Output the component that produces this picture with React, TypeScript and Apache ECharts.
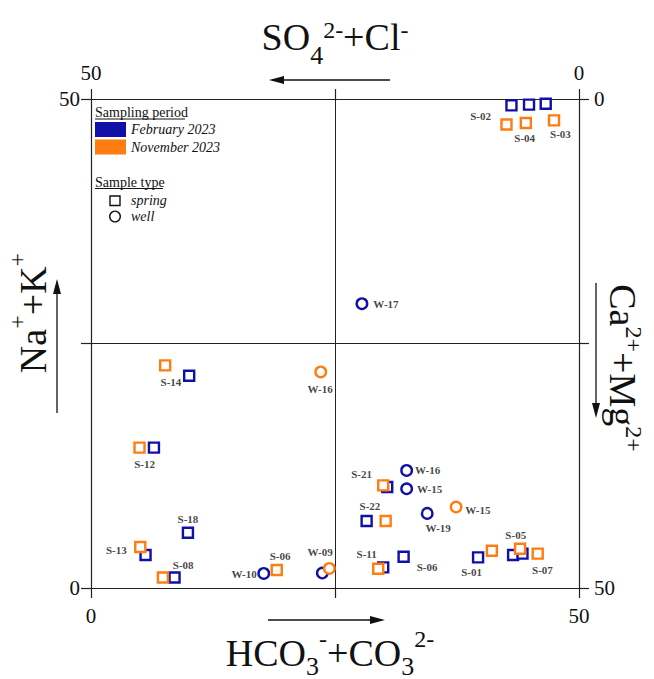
import React, { useEffect, useRef } from "react";
import * as echarts from "echarts";

const BLUE = "#1010a8";
const ORANGE = "#ff7c10";
const INK = "#111111";
const FONT = "'Liberation Serif', 'Times New Roman', serif";

// [HCO3+CO3 %, Na+K %]
const febSpring: [number, number][] = [
  [43.08, 49.35], [44.88, 49.42], [46.59, 49.52],
  [10.06, 21.71], [6.45, 14.35], [9.93, 5.65], [5.59, 3.37], [8.56, 1.08],
  [30.35, 10.33], [28.24, 6.85], [29.94, 2.11], [32.03, 3.2],
  [39.66, 3.13], [43.25, 3.37], [44.21, 3.51],
];
const febWell: [number, number][] = [
  [27.76, 29.07], [32.34, 12.02], [32.34, 10.15], [34.45, 7.63],
  [17.7, 1.49], [23.7, 1.53],
];
const novSpring: [number, number][] = [
  [42.57, 47.4], [44.55, 47.55], [47.44, 47.81],
  [7.6, 22.76], [4.97, 14.35], [5.05, 4.19], [7.37, 1.08], [19.03, 1.84],
  [29.94, 10.49], [30.19, 6.85], [29.43, 1.97],
  [41.07, 3.81], [43.96, 4.02], [45.77, 3.51],
];
const novWell: [number, number][] = [
  [23.54, 22.09], [24.42, 2.0], [37.41, 8.28],
];
// sample annotations: [name, x, y]
const sampleLabels: [string, number, number][] = [
  ["S-02", 39.91, 48.29], ["S-04", 44.44, 46.04], ["S-03", 48.1, 46.45],
  ["W-17", 30.22, 29.07], ["S-14", 8.19, 21.02], ["W-16", 23.47, 20.38],
  ["S-12", 5.49, 12.71], ["S-18", 9.93, 7.06], ["S-13", 2.59, 3.92],
  ["S-08", 9.45, 2.38], ["W-10", 15.69, 1.47], ["S-06", 19.37, 3.3],
  ["W-09", 23.47, 3.64], ["S-21", 27.73, 11.69], ["W-16", 34.49, 12.02],
  ["W-15", 34.69, 10.15], ["S-22", 28.58, 8.34], ["W-19", 35.57, 6.09],
  ["W-15", 39.63, 8.0], ["S-11", 28.24, 3.51], ["S-06", 34.44, 2.15],
  ["S-01", 38.99, 1.67], ["S-05", 43.52, 5.45], ["S-07", 46.25, 1.87],
];
const AXIS_MIN = 0;
const AXIS_MAX = 50;
const AXIS_STEP = 25;

function axisBase(extra: any) {
  return {
    type: "value",
    min: AXIS_MIN,
    max: AXIS_MAX,
    interval: AXIS_STEP,
    axisLine: { show: true, onZero: false, lineStyle: { color: "#222", width: 1.2 } },
    axisTick: { show: true, inside: false, length: 10, lineStyle: { color: "#222", width: 1.2 } },
    splitLine: { show: false },
    ...extra,
    axisLabel: {
      fontFamily: FONT,
      fontSize: 21,
      color: INK,
      formatter: (v: number) => (v === AXIS_MIN || v === AXIS_MAX ? String(v) : ""),
      ...(extra.axisLabel || {}),
    },
  };
}

const mainTok = { fontSize: 38, fontFamily: FONT, fill: INK };

function buildOption() {
  const sym = (color: string, symbol: string, size: number) => ({
    type: "scatter",
    symbol,
    symbolSize: size,
    itemStyle: { color: "#ffffff", borderColor: color, borderWidth: 2.4, opacity: 1 },
    xAxisIndex: 0,
    yAxisIndex: 0,
    z: 3,
  });
  return {
    animation: false,
    backgroundColor: "#ffffff",
    grid: { left: 91, top: 99, right: 75, bottom: 91, containLabel: false },
    xAxis: [
      axisBase({
        position: "bottom",
        splitLine: { show: true, lineStyle: { color: "#222", width: 1 } },
        axisLabel: { margin: 17 },
      }),
      axisBase({ position: "top", inverse: true, axisLabel: { margin: 16 } }),
    ],
    yAxis: [
      axisBase({
        position: "left",
        splitLine: { show: true, lineStyle: { color: "#222", width: 1 } },
        axisLabel: { margin: 11 },
      }),
      axisBase({ position: "right", inverse: true, axisLabel: { margin: 15 } }),
    ],
    series: [
      { ...sym(BLUE, "rect", 10), name: "February 2023 spring", data: febSpring },
      { ...sym(BLUE, "circle", 10.5), name: "February 2023 well", data: febWell },
      { ...sym(ORANGE, "rect", 10), name: "November 2023 spring", data: novSpring },
      { ...sym(ORANGE, "circle", 10.5), name: "November 2023 well", data: novWell },
      {
        type: "scatter",
        name: "labels",
        silent: true,
        symbolSize: 1,
        itemStyle: { color: "rgba(0,0,0,0)" },
        z: 5,
        data: sampleLabels.map(([n, x, y]) => ({ name: n, value: [x, y] })),
        label: {
          show: true,
          position: "inside",
          formatter: "{b}",
          fontFamily: FONT,
          fontWeight: "bold",
          fontSize: 11,
          color: INK,
        },
      },
    ],
    graphic: [
      // top title
      {
        type: "text",
        x: 335,
        y: 37,
        style: {
          text: "{m|SO}{sb|4}{sp|2-}{m|+Cl}{sp|-}",
          align: "center",
          verticalAlign: "middle",
          rich: {
            m: mainTok,
            sb: { fontSize: 26, fontFamily: FONT, fill: INK, padding: [37, 0, 0, 0] },
            sp: { fontSize: 24, fontFamily: FONT, fill: INK, padding: [0, 0, 14, 0] },
          },
        },
      },
      // top arrow
      { type: "line", shape: { x1: 390, y1: 80, x2: 282, y2: 80 }, style: { stroke: INK, lineWidth: 1.3 } },
      { type: "polygon", shape: { points: [[269, 80], [284, 76], [284, 84]] }, style: { fill: INK } },
      // bottom title
      {
        type: "text",
        x: 330,
        y: 653,
        style: {
          text: "{m|HCO}{sb|3}{sp|-}{m|+CO}{sb|3}{sp|2-}",
          align: "center",
          verticalAlign: "middle",
          rich: {
            m: mainTok,
            sb: { fontSize: 26, fontFamily: FONT, fill: INK, padding: [26, 0, 0, 0] },
            sp: { fontSize: 24, fontFamily: FONT, fill: INK, padding: [0, 0, 28, 0] },
          },
        },
      },
      // bottom arrow
      { type: "line", shape: { x1: 268, y1: 620, x2: 372, y2: 620 }, style: { stroke: INK, lineWidth: 1.3 } },
      { type: "polygon", shape: { points: [[385, 620], [370, 616], [370, 624]] }, style: { fill: INK } },
      // left title
      {
        type: "text",
        x: 33,
        y: 313,
        rotation: Math.PI / 2,
        style: {
          text: "{m|Na}{sp|+}{m|+K}{sp|+}",
          align: "center",
          verticalAlign: "middle",
          rich: {
            m: mainTok,
            sp: { fontSize: 24, fontFamily: FONT, fill: INK, padding: [0, 0, 32, 0] },
          },
        },
      },
      // left arrow
      { type: "line", shape: { x1: 57, y1: 413, x2: 57, y2: 292 }, style: { stroke: INK, lineWidth: 1.3 } },
      { type: "polygon", shape: { points: [[57, 279], [53, 294], [61, 294]] }, style: { fill: INK } },
      // right title
      {
        type: "text",
        x: 623,
        y: 368,
        rotation: -Math.PI / 2,
        style: {
          text: "{m|Ca}{sp|2+}{m|+Mg}{sp|2+}",
          align: "center",
          verticalAlign: "middle",
          rich: {
            m: mainTok,
            sp: { fontSize: 24, fontFamily: FONT, fill: INK, padding: [0, 0, 22, 0] },
          },
        },
      },
      // right arrow
      { type: "line", shape: { x1: 596, y1: 283, x2: 596, y2: 404 }, style: { stroke: INK, lineWidth: 1.3 } },
      { type: "polygon", shape: { points: [[596, 418], [592, 403], [600, 403]] }, style: { fill: INK } },
      // legend
      {
        type: "text",
        x: 95,
        y: 112.5,
        style: { text: "Sampling period", fontFamily: FONT, fontSize: 14, fill: INK, verticalAlign: "middle" },
      },
      { type: "line", shape: { x1: 95, y1: 119, x2: 185, y2: 119 }, style: { stroke: INK, lineWidth: 1 } },
      { type: "rect", shape: { x: 95, y: 122, width: 31, height: 15 }, style: { fill: BLUE } },
      {
        type: "text",
        x: 131,
        y: 129.5,
        style: { text: "February 2023", fontFamily: FONT, fontSize: 14, fontStyle: "italic", fill: INK, verticalAlign: "middle" },
      },
      { type: "rect", shape: { x: 95, y: 139.5, width: 31, height: 15 }, style: { fill: ORANGE } },
      {
        type: "text",
        x: 131,
        y: 147,
        style: { text: "November 2023", fontFamily: FONT, fontSize: 14, fontStyle: "italic", fill: INK, verticalAlign: "middle" },
      },
      {
        type: "text",
        x: 95,
        y: 182,
        style: { text: "Sample type", fontFamily: FONT, fontSize: 14, fill: INK, verticalAlign: "middle" },
      },
      { type: "line", shape: { x1: 95, y1: 188.5, x2: 163, y2: 188.5 }, style: { stroke: INK, lineWidth: 1 } },
      { type: "rect", shape: { x: 110, y: 196, width: 10, height: 9.5 }, style: { fill: "#fff", stroke: INK, lineWidth: 1.4 } },
      {
        type: "text",
        x: 131,
        y: 200.5,
        style: { text: "spring", fontFamily: FONT, fontSize: 14, fontStyle: "italic", fill: INK, verticalAlign: "middle" },
      },
      { type: "circle", shape: { cx: 115, cy: 216.5, r: 5.3 }, style: { fill: "#fff", stroke: INK, lineWidth: 1.4 } },
      {
        type: "text",
        x: 131,
        y: 216.5,
        style: { text: "well", fontFamily: FONT, fontSize: 14, fontStyle: "italic", fill: INK, verticalAlign: "middle" },
      },
    ],
  };
}

export default function App() {
  const ref = useRef<HTMLDivElement>(null);
  useEffect(() => {
    if (!ref.current) return;
    const chart = echarts.init(ref.current, null, { renderer: "svg" });
    chart.setOption(buildOption() as any);
    return () => chart.dispose();
  }, []);
  return (
    <div
      ref={ref}
      style={{ position: "fixed", left: 0, top: 0, width: 654, height: 679, background: "#fff" }}
    />
  );
}
